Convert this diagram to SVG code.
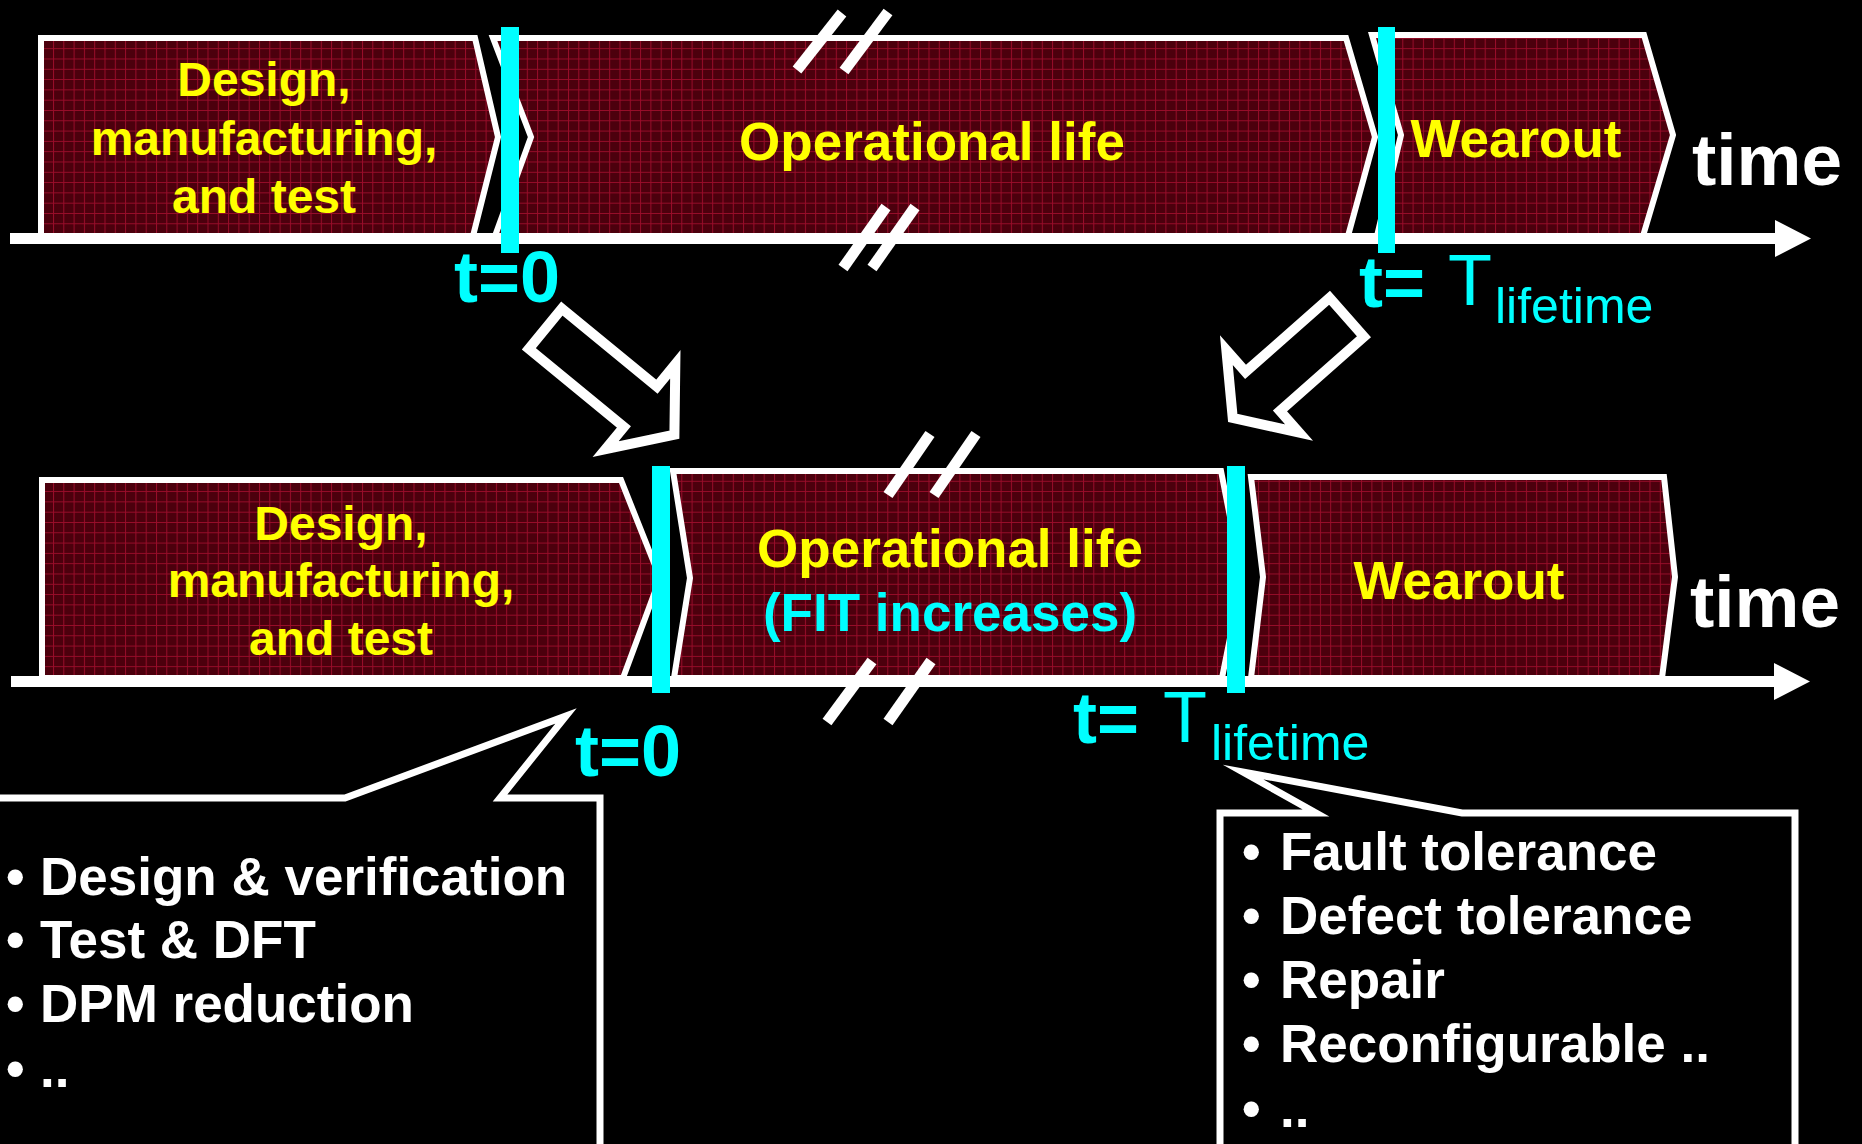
<svg xmlns="http://www.w3.org/2000/svg" width="1862" height="1144" viewBox="0 0 1862 1144">
  <defs>
    <pattern id="grid" width="10.3" height="10.3" patternUnits="userSpaceOnUse" x="1.5" y="7">
      <rect width="10.3" height="10.3" fill="#4c000d"/>
      <path d="M0 0.5H10.3M0.5 0V10.3" stroke="#990d2a" stroke-width="1"/>
    </pattern>
    <style>
      .box { fill: url(#grid); stroke: #ffffff; stroke-width: 6; stroke-linejoin: miter; }
      .axis { stroke: #ffffff; stroke-width: 11; fill: none; }
      .head { fill: #ffffff; }
      .brk { stroke: #ffffff; stroke-width: 11; stroke-linecap: butt; fill: none; }
      .bar { fill: #00ffff; }
      .hollow { fill: none; stroke: #ffffff; stroke-width: 10; stroke-linejoin: miter; stroke-miterlimit: 10; }
      .callout { fill: #000000; stroke: #ffffff; stroke-width: 7; stroke-linejoin: miter; stroke-miterlimit: 10; }
      text { font-family: "Liberation Sans", Arial, sans-serif; }
      .lbl { font-weight: bold; fill: #ffff00; text-anchor: middle; }
      .lbl47 { font-size: 48px; }
      .lbl53 { font-size: 53px; }
      .cyan { fill: #00ffff; }
      .tb { font-weight: bold; font-size: 72px; fill: #00ffff; }
      .tr { font-weight: normal; font-size: 72px; fill: #00ffff; }
      .sub { font-weight: normal; font-size: 50px; fill: #00ffff; }
      .time { font-weight: bold; font-size: 73px; fill: #ffffff; }
      .item { font-weight: bold; font-size: 53px; fill: #ffffff; }
    </style>
  </defs>

  <rect x="0" y="0" width="1862" height="1144" fill="#000000"/>

  <!-- Top timeline -->
  <g id="top-design">
    <polygon class="box" points="41,38 475,38 498,137 473,236 41,236"/>
    <text class="lbl lbl47" x="264" y="96">Design,</text>
    <text class="lbl lbl47" x="264" y="155">manufacturing,</text>
    <text class="lbl lbl47" x="264" y="213">and test</text>
  </g>
  <g id="top-operational">
    <polygon class="box" points="493,38 1346,38 1375,137 1348,236 495,236 531,137"/>
    <text class="lbl lbl53" x="932" y="160">Operational life</text>
  </g>
  <g id="top-wearout">
    <polygon class="box" points="1372,35 1644,35 1673,135 1643,236 1377,236 1401,135"/>
    <text class="lbl lbl53" x="1516" y="157">Wearout</text>
  </g>

  <!-- Bottom timeline -->
  <g id="bottom-design">
    <polygon class="box" points="42,480 621,480 660,578 623,678 42,678"/>
    <text class="lbl lbl47" x="341" y="540">Design,</text>
    <text class="lbl lbl47" x="341" y="597">manufacturing,</text>
    <text class="lbl lbl47" x="341" y="655">and test</text>
  </g>
  <g id="bottom-operational">
    <polygon class="box" points="673,471 1221,471 1242,578 1222,678 674,678 690,578"/>
    <text class="lbl lbl53" x="950" y="567">Operational life</text>
    <text class="lbl lbl53 cyan" x="950" y="631">(FIT increases)</text>
  </g>
  <g id="bottom-wearout">
    <polygon class="box" points="1251,477 1664,477 1675,577 1662,678 1251,678 1263,577"/>
    <text class="lbl lbl53" x="1459" y="599">Wearout</text>
  </g>

  <!-- Time axes -->
  <g id="axes">
    <line class="axis" x1="10" y1="238.5" x2="1778" y2="238.5"/>
    <polygon class="head" points="1775,220 1811,238.5 1775,257"/>
    <line class="axis" x1="11" y1="681.5" x2="1777" y2="681.5"/>
    <polygon class="head" points="1774,663 1810,681.5 1774,700"/>
    <text class="time" x="1692" y="185">time</text>
    <text class="time" x="1690" y="627">time</text>
  </g>

  <!-- Break marks -->
  <g id="breaks">
    <line class="brk" x1="797" y1="70" x2="842" y2="13"/>
    <line class="brk" x1="844" y1="71" x2="888" y2="12"/>
    <line class="brk" x1="843" y1="268" x2="886" y2="207"/>
    <line class="brk" x1="872" y1="268" x2="915" y2="207"/>
    <line class="brk" x1="888" y1="495" x2="930" y2="434"/>
    <line class="brk" x1="934" y1="495" x2="976" y2="434"/>
    <line class="brk" x1="827" y1="722" x2="872" y2="661"/>
    <line class="brk" x1="888" y1="722" x2="931" y2="661"/>
  </g>

  <!-- Time markers -->
  <g id="marker-top-t0">
    <rect class="bar" x="501" y="27" width="18" height="226"/>
    <text class="tb" x="454" y="302">t=0</text>
  </g>
  <g id="marker-top-tlife">
    <rect class="bar" x="1378" y="27" width="17" height="226"/>
    <text class="tb" x="1359" y="307">t=</text>
    <text class="tr" x="1448" y="305">T</text>
    <text class="sub" x="1495" y="323">lifetime</text>
  </g>
  <g id="marker-bottom-t0">
    <rect class="bar" x="652" y="466" width="18" height="227"/>
    <text class="tb" x="575" y="776">t=0</text>
  </g>
  <g id="marker-bottom-tlife">
    <rect class="bar" x="1227" y="466" width="18" height="227"/>
    <text class="tb" x="1073" y="743">t=</text>
    <text class="tr" x="1163" y="742">T</text>
    <text class="sub" x="1211" y="760">lifetime</text>
  </g>

  <!-- Connectors: hollow arrows -->
  <g id="connectors">
    <polygon class="hollow" transform="translate(541.5,325.5) rotate(39.4)" points="5,-26 128,-26 128,-55 172,0 128,55 128,26 5,26"/>
    <polygon class="hollow" transform="translate(1350.5,314) rotate(138.6)" points="5,-26 117,-26 117,-55 157,0 117,55 117,26 5,26"/>
  </g>

  <!-- Callouts -->
  <g id="callout-left">
    <path class="callout" d="M-10,798 H345 L566,716 L500,798 H600 V1160 H-10 Z"/>
    <text class="item" x="6" y="895">•</text><text class="item" x="40" y="895">Design &amp; verification</text>
    <text class="item" x="6" y="958">•</text><text class="item" x="40" y="958">Test &amp; DFT</text>
    <text class="item" x="6" y="1022">•</text><text class="item" x="40" y="1022">DPM reduction</text>
    <text class="item" x="6" y="1087">•</text><text class="item" x="40" y="1087">..</text>
  </g>
  <g id="callout-right">
    <path class="callout" d="M1220,1160 V813 H1316 L1243,772 L1462,813 H1795 V1160 Z"/>
    <text class="item" x="1242" y="870">•</text><text class="item" x="1280" y="870">Fault tolerance</text>
    <text class="item" x="1242" y="934">•</text><text class="item" x="1280" y="934">Defect tolerance</text>
    <text class="item" x="1242" y="998">•</text><text class="item" x="1280" y="998">Repair</text>
    <text class="item" x="1242" y="1062">•</text><text class="item" x="1280" y="1062">Reconfigurable ..</text>
    <text class="item" x="1242" y="1127">•</text><text class="item" x="1280" y="1127">..</text>
  </g>
</svg>
